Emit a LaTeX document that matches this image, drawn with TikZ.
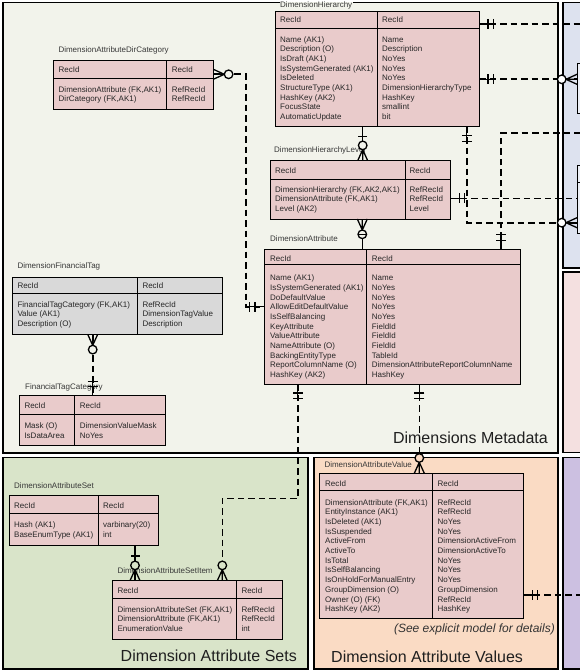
\documentclass[tikz,border=0pt]{standalone}
\usepackage{fontspec}
\setmainfont{Liberation Sans}
\usetikzlibrary{calc}
\definecolor{metaC}{HTML}{F2F3EB}
\definecolor{entC}{HTML}{E9CBCB}
\definecolor{grayE}{HTML}{D9D9D9}
\definecolor{greenC}{HTML}{D9E4C9}
\definecolor{orangeC}{HTML}{FADBC4}
\definecolor{blueC}{HTML}{DDE2EF}
\definecolor{pinkC}{HTML}{F4E0E0}
\definecolor{purpleC}{HTML}{CCC0E1}
\definecolor{txtC}{HTML}{262626}
\tikzset{
  panel/.style={draw=black, line width=1.2pt},
  entity/.style={draw=black, line width=0.9pt, rectangle, inner sep=0pt, outer sep=0pt},
  entline/.style={draw=black, line width=0.9pt},
  rowtxt/.style={anchor=base west, inner sep=0pt, font=\fontsize{8}{9.67}\selectfont, text=txtC},
  titletxt/.style={anchor=base west, inner sep=0pt, font=\fontsize{8}{9.67}\selectfont, text=black!78},
  biglbl/.style={inner sep=0pt, font=\fontsize{16}{19}\selectfont, text=black!88},
  conn/.style={draw=black, line width=1.6pt, dash pattern=on 6.5pt off 4pt},
  sconn/.style={draw=black, line width=1.4pt},
  mkline/.style={draw=black, line width=1.3pt},
  onemk/.pic={\draw[mkline] (0,0) -- (16,0) (9,-5) -- (9,5) (14.5,-5) -- (14.5,5);},
  onebar/.pic={\draw[mkline] (#1,-4.5) -- (#1,4.5);},
  crowzero/.pic={\draw[mkline] (0,-5) -- (11,0) -- (0,5) (0,0) -- (11,0);
                 \draw[mkline,fill=#1] (15.3,0) circle[radius=4.3];},
}
\newcommand{\entbox}[8]{%
  \node[entity, fill=#8, minimum width={#4-#2}, minimum height={#5-#3}] (#1) at ({(#2+#4)/2},{(#3+#5)/2}) {};
  \draw[entline] (#2,#7) -- (#4,#7) (#6,#3) -- (#6,#5);}
\newcommand{\rowsat}[4]{\foreach \rw [count=\i] in {#4} {\node[rowtxt] (#1\i) at (#2,{#3+(\i-1)*9.67}) {\rw};}}
\begin{document}
\begin{tikzpicture}[x=1pt,y=-1pt]
\useasboundingbox (0,0) rectangle (580,671);
\begin{scope}
\clip (0,0) rectangle (580,671);
\fill[white] (0,0) rectangle (580,671);
% panels
\draw[panel, fill=metaC] (3,2.5) rectangle (558,453);
\draw[panel, fill=blueC] (563,2.5) rectangle (600,268);
\draw[panel, fill=pinkC] (563,272) rectangle (600,452.5);
\draw[panel, fill=greenC] (3,457.5) rectangle (308,669);
\draw[panel, fill=orangeC] (314,457.5) rectangle (558,669);
\draw[panel, fill=purpleC] (563,457.5) rectangle (600,669);
% big labels
\node[biglbl, anchor=base east] (lblmeta) at (548,443.8) {Dimensions Metadata};
\node[biglbl, anchor=base east] (lblsets) at (297,661) {Dimension Attribute Sets};
\node[biglbl, anchor=base west] (lblvals) at (331,662) {Dimension Attribute Values};
\node[inner sep=0pt, anchor=base east, font=\fontsize{12}{14}\selectfont\itshape, text=black!80] (note) at (555,632.5) {(See explicit model for details)};

% partial entities on the right
\node[entity, fill=white!45!blueC, minimum width=40, minimum height=50] (b1) at (597,88.3) {};
\node[entity, fill=white!45!blueC, minimum width=40, minimum height=68.3] (b2) at (597,199.15) {};
\draw[entline] (577,182.7) -- (617,182.7);

% DimensionHierarchy
\entbox{dh}{275}{11}{479}{126.7}{377.3}{28.3}{entC}
\node[titletxt, fill=metaC, inner sep=0.6pt] (dht) at (279.4,8) {DimensionHierarchy};
\node[rowtxt] (dhh1) at (280,23) {RecId};
\node[rowtxt] (dhh2) at (382,23) {RecId};
\rowsat{dhl}{280}{42.3}{{Name (AK1)},{Description (O)},{IsDraft (AK1)},{IsSystemGenerated (AK1)},{IsDeleted},{StructureType (AK1)},{HashKey (AK2)},{FocusState},{AutomaticUpdate}}
\rowsat{dhr}{382}{42.3}{Name,Description,NoYes,NoYes,NoYes,DimensionHierarchyType,HashKey,smallint,bit}

% DimensionHierarchyLevel
\entbox{dhlv}{270.5}{160.7}{450.3}{219}{405}{179}{entC}
\node[titletxt] (dhlvt) at (274,153) {DimensionHierarchyLevel};
\node[rowtxt] (dhlvh1) at (275,173) {RecId};
\node[rowtxt] (dhlvh2) at (409.5,173) {RecId};
\rowsat{dhlvl}{275}{192}{{DimensionHierarchy (FK,AK2,AK1)},{DimensionAttribute (FK,AK1)},{Level (AK2)}}
\rowsat{dhlvr}{409.5}{192}{RefRecId,RefRecId,Level}

% DimensionAttributeDirCategory
\entbox{dadc}{53.3}{60.7}{213.3}{109.3}{166.7}{78.3}{entC}
\node[titletxt] (dadct) at (58.3,53) {DimensionAttributeDirCategory};
\node[rowtxt] (dadch1) at (58.5,73) {RecId};
\node[rowtxt] (dadch2) at (171.7,73) {RecId};
\rowsat{dadcl}{58.5}{92.3}{{DimensionAttribute (FK,AK1)},{DirCategory (FK,AK1)}}
\rowsat{dadcr}{171.7}{92.3}{RefRecId,RefRecId}

% DimensionAttribute
\entbox{da}{264}{249.3}{520}{384}{366.3}{264.3}{entC}
\node[titletxt] (dat) at (270,241.3) {DimensionAttribute};
\node[rowtxt] (dah1) at (270,261.3) {RecId};
\node[rowtxt] (dah2) at (371.7,261.3) {RecId};
\rowsat{dal}{270}{280.7}{{Name (AK1)},{IsSystemGenerated (AK1)},{DoDefaultValue},{AllowEditDefaultValue},{IsSelfBalancing},{KeyAttribute},{ValueAttribute},{NameAttribute (O)},{BackingEntityType},{ReportColumnName (O)},{HashKey (AK2)}}
\rowsat{dar}{371.7}{280.7}{Name,NoYes,NoYes,NoYes,NoYes,FieldId,FieldId,FieldId,TableId,DimensionAttributeReportColumnName,HashKey}

% DimensionFinancialTag
\entbox{dft}{12.7}{277.7}{222.3}{334.3}{137.3}{293.3}{grayE}
\node[titletxt] (dftt) at (17.3,268.7) {DimensionFinancialTag};
\node[rowtxt] (dfth1) at (17.3,288.3) {RecId};
\node[rowtxt] (dfth2) at (142.3,288.3) {RecId};
\rowsat{dftl}{17.3}{307.3}{{FinancialTagCategory (FK,AK1)},{Value (AK1)},{Description (O)}}
\rowsat{dftr}{142.3}{307.3}{RefRecId,DimensionTagValue,Description}

% FinancialTagCategory
\entbox{ftc}{19}{395.7}{165.3}{445}{74}{414.3}{entC}
\node[titletxt] (ftct) at (25,389) {FinancialTagCategory};
\node[rowtxt] (ftch1) at (24.3,408) {RecId};
\node[rowtxt] (ftch2) at (79.7,408) {RecId};
\rowsat{ftcl}{24.3}{428.7}{{Mask (O)},{IsDataArea}}
\rowsat{ftcr}{79.7}{428.7}{DimensionValueMask,NoYes}

% DimensionAttributeSet
\entbox{das}{9.3}{495.7}{158.3}{545}{98.7}{513.3}{entC}
\node[titletxt] (dast) at (14,488.7) {DimensionAttributeSet};
\node[rowtxt] (dash1) at (14,508.3) {RecId};
\node[rowtxt] (dash2) at (103,508.3) {RecId};
\rowsat{dasl}{14}{527.7}{{Hash (AK1)},{BaseEnumType (AK1)}}
\rowsat{dasr}{103}{527.7}{varbinary(20),int}

% DimensionAttributeSetItem
\entbox{dasi}{112.7}{580.7}{282.7}{639.3}{236.7}{598.3}{entC}
\node[titletxt] (dasit) at (117.3,573) {DimensionAttributeSetItem};
\node[rowtxt] (dasih1) at (117.3,593) {RecId};
\node[rowtxt] (dasih2) at (241.3,593) {RecId};
\rowsat{dasil}{117.3}{612.3}{{DimensionAttributeSet (FK,AK1)},{DimensionAttribute (FK,AK1)},{EnumerationValue}}
\rowsat{dasir}{241.3}{612.3}{RefRecId,RefRecId,int}

% DimensionAttributeValue
\entbox{dav}{319.3}{473.3}{523.3}{618.3}{432.3}{490}{entC}
\node[titletxt] (davt) at (324.3,467) {DimensionAttributeValue};
\node[rowtxt] (davh1) at (325,486.3) {RecId};
\node[rowtxt] (davh2) at (437.5,486.3) {RecId};
\rowsat{davl}{325}{505.3}{{DimensionAttribute (FK,AK1)},{EntityInstance (AK1)},{IsDeleted (AK1)},{IsSuspended},{ActiveFrom},{ActiveTo},{IsTotal},{IsSelfBalancing},{IsOnHoldForManualEntry},{GroupDimension (O)},{Owner (O) (FK)},{HashKey (AK2)}}
\rowsat{davr}{437.5}{505.3}{RefRecId,RefRecId,NoYes,NoYes,DimensionActiveFrom,DimensionActiveTo,NoYes,NoYes,NoYes,GroupDimension,RefRecId,HashKey}

% free ends
\coordinate (offa) at (600,24);
\coordinate (offe) at (600,133.3);
\coordinate (offv) at (600,595);

% connectors
\draw[conn] (dh.east |- 0,24) -- (offa);
\draw[conn] (dh.east |- 0,79.3) -- (b1.west |- 0,79.3);
\draw[conn] (dh.south -| 466.7,0) -- (466.7,222.7) -- (b2.west |- 0,222.7);
\draw[conn] (dhlv.east |- 0,198.3) -- (b2.west |- 0,198.3);
\draw[conn] (da.north -| 501,0) -- (501,133.3) -- (offe);
\draw[conn] (dadc.east |- 0,74.3) -- (246,74.3) |- (da.west |- 0,306.7);
\draw[sconn] (dh.south -| 362.7,0) -- (dhlv.north -| 362.7,0);
\draw[sconn] (dhlv.south -| 362.3,0) -- (da.north -| 362.3,0);
\draw[conn] (dft.south -| 92.7,0) -- (ftc.north -| 92.7,0);
\draw[sconn] (das.south -| 135,0) -- (dasi.north -| 135,0);
\draw[conn] (da.south -| 297.7,0) -- (297.7,498.3) -| (dasi.north -| 222.3,0);
\draw[conn] (da.south -| 419.3,0) -- (dav.north -| 419.3,0);
\draw[conn] (dav.east |- 0,595) -- (offv);

% end marks
\pic at (dh.east |- 0,24) {onemk};
\pic at (dh.east |- 0,79.3) {onemk};
\pic[rotate=180] at (b1.west |- 0,79.3) {crowzero=white};
\pic[rotate=-90] at (dh.south -| 466.7,0) {onemk};
\pic[rotate=180] at (b2.west |- 0,222.7) {crowzero=white};
\pic at (dhlv.east |- 0,198.3) {onemk};
\pic[rotate=90] at (da.north -| 501,0) {onemk};
\pic at (dadc.east |- 0,74.3) {crowzero=metaC};
\pic[rotate=180] at (da.west |- 0,306.7) {onemk};
\pic[rotate=-90] at (dh.south -| 362.7,0) {onebar=10};
\pic[rotate=90] at (dhlv.north -| 362.7,0) {crowzero=metaC};
\pic[rotate=-90] at (dhlv.south -| 362.3,0) {crowzero=metaC};
\pic[rotate=90] at (da.north -| 362.3,0) {onebar=15};
\pic[rotate=-90] at (dft.south -| 92.7,0) {crowzero=metaC};
\pic[rotate=90] at (ftc.north -| 92.7,0) {onemk};
\pic[rotate=-90] at (das.south -| 135,0) {onebar=11};
\pic[rotate=90] at (dasi.north -| 135,0) {crowzero=greenC};
\pic[rotate=-90] at (da.south -| 297.7,0) {onemk};
\pic[rotate=90] at (dasi.north -| 222.3,0) {crowzero=greenC};
\pic[rotate=-90] at (da.south -| 419.3,0) {onemk};
\pic[rotate=90] at (dav.north -| 419.3,0) {crowzero=orangeC};
\pic at (dav.east |- 0,595) {onemk};
\end{scope}
\end{tikzpicture}
\end{document}
